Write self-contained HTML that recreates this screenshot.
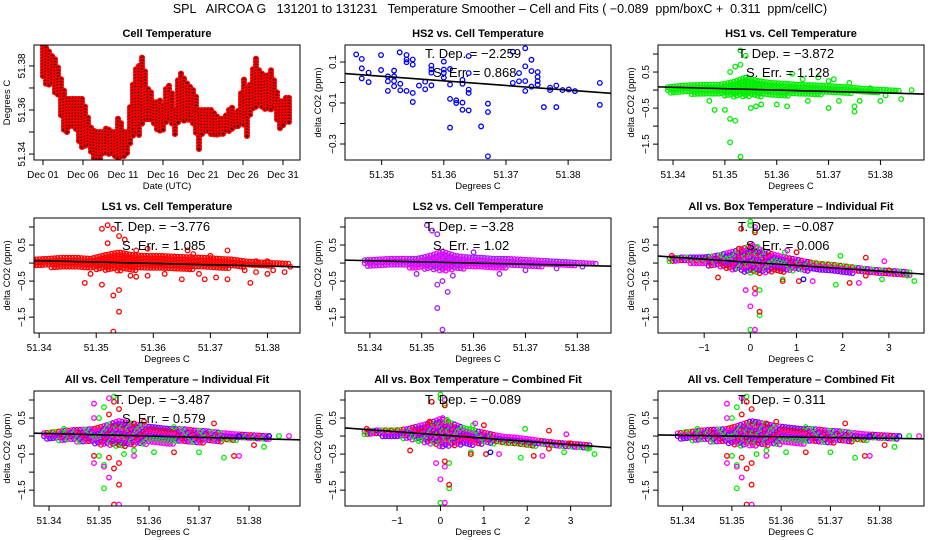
<!DOCTYPE html>
<html><head><meta charset="utf-8"><style>
html,body{margin:0;padding:0;background:#fff}
svg{display:block;font-family:"Liberation Sans",sans-serif}
</style></head><body>
<svg id="chart" width="936" height="540" viewBox="0 0 936 540">
<rect width="936" height="540" fill="#fff"/>
<text x="500" y="13" font-size="12.5" text-anchor="middle" style="white-space:pre" xml:space="preserve">SPL   AIRCOA G   131201 to 131231   Temperature Smoother – Cell and Fits ( −0.089  ppm/boxC +  0.311  ppm/cellC)</text>
</svg>
<script>
// ---------- data ----------
const dayBins = [0,0.5,1,1.5,2,2.5,3,3.5,4,4.5,5,5.5,6,6.5,7,7.5,8,8.5,9,9.5,10,10.5,11,11.5,12,12.5,13,13.5,14,14.5,15,15.5,16,16.5,17,17.5,18,18.5,19,19.5,20,20.5,21,21.5,22,22.5,23,23.5,24,24.5,25,25.5,26,26.5,27,27.5,28,28.5,29,29.5,30,30.5,31];
const cellTempLo = [51.375,51.37,51.372,51.368,51.365,51.35,51.35,51.352,51.352,51.345,51.342,51.345,51.34,51.337,51.337,51.34,51.34,51.34,51.338,51.338,51.338,51.34,51.345,51.35,51.348,51.355,51.355,51.355,51.352,51.35,51.35,51.355,51.355,51.348,51.355,51.355,51.355,51.355,51.352,51.342,51.35,51.35,51.348,51.348,51.348,51.348,51.35,51.35,51.352,51.352,51.355,51.348,51.36,51.36,51.362,51.36,51.36,51.36,51.36,51.35,51.352,51.354,51.355];
const cellTempHi = [51.389,51.388,51.385,51.383,51.378,51.37,51.365,51.365,51.365,51.365,51.365,51.358,51.352,51.35,51.35,51.35,51.352,51.35,51.35,51.358,51.35,51.35,51.365,51.378,51.38,51.385,51.37,51.368,51.362,51.365,51.362,51.372,51.37,51.36,51.378,51.375,51.372,51.37,51.368,51.36,51.36,51.36,51.36,51.358,51.356,51.356,51.358,51.362,51.358,51.36,51.375,51.37,51.372,51.385,51.378,51.376,51.375,51.378,51.372,51.364,51.364,51.366,51.365];

const hs2X = [51.3459,51.3468,51.3468,51.3468,51.3479,51.3479,51.3499,51.3499,51.351,51.351,51.351,51.352,51.352,51.352,51.352,51.3529,51.353,51.353,51.354,51.354,51.354,51.354,51.355,51.355,51.355,51.355,51.356,51.357,51.357,51.358,51.358,51.358,51.358,51.36,51.36,51.36,51.36,51.361,51.361,51.361,51.361,51.362,51.362,51.363,51.363,51.363,51.363,51.364,51.364,51.364,51.364,51.364,51.366,51.3671,51.3671,51.3671,51.3711,51.3711,51.3721,51.3721,51.3731,51.3731,51.3731,51.3731,51.3741,51.3741,51.3741,51.3751,51.3751,51.3751,51.3751,51.3761,51.3771,51.3771,51.3781,51.3781,51.3791,51.3801,51.3811,51.3851,51.3851];
const hs2Y = [0.137,0.115,0.069,0.02,0.048,0.002,0.134,0.061,0.03,0.006,-0.041,0.058,0.03,0.007,-0.018,0.147,-0.006,-0.038,0.134,0.112,0.099,-0.041,0.112,0.087,-0.051,-0.095,-0.015,0.004,-0.033,0.082,0.064,0.048,-0.014,0.102,0.063,0.024,0.047,-0.01,-0.08,-0.22,0.066,-0.087,-0.1,0.013,-0.006,-0.098,-0.133,0.129,0.046,-0.035,-0.051,-0.136,-0.214,-0.103,-0.144,-0.36,0.15,-0.002,0.046,0.006,0.167,0.079,0.007,-0.041,0.111,0.056,-0.02,0.051,0.027,0.007,-0.01,-0.12,-0.025,-0.037,-0.015,-0.12,-0.037,-0.034,-0.042,-0.002,-0.109];

const cellBins = [51.339,51.3415,51.344,51.3465,51.349,51.3515,51.354,51.3565,51.359,51.3615,51.364,51.3665,51.369,51.3715,51.374,51.3765,51.379,51.3815,51.384];
const hs1Lo = [-0.08,-0.1,-0.12,-0.14,-0.15,-0.2,-0.2,-0.18,-0.16,-0.16,-0.16,-0.14,-0.12,-0.12,-0.1,-0.08,-0.07,-0.06,-0.05];
const hs1Hi = [0.08,0.12,0.14,0.15,0.15,0.22,0.35,0.25,0.2,0.18,0.15,0.14,0.12,0.1,0.08,0.04,0.02,0,-0.02];
const hs1OutX = [51.353,51.354,51.352,51.353,51.351,51.35,51.351,51.352,51.351,51.353,51.348,51.347,51.355,51.356,51.357,51.36,51.362,51.37,51.375,51.375,51.38,51.384,51.386,51.368,51.371,51.37,51.374,51.363,51.365,51.378,51.381,51.376,51.372,51.366];
const hs1OutY = [1.1,0.95,0.65,0.7,0.5,-0.55,-0.8,-0.85,-1.45,-1.85,-0.55,-0.3,-0.5,-0.45,-0.4,-0.4,-0.45,-0.5,-0.6,-0.45,-0.3,-0.25,0,0.35,0.3,0.25,0.2,0.45,0.3,0.05,-0.15,-0.3,-0.3,-0.3];

const ls1Lo = [-0.1,-0.12,-0.14,-0.15,-0.15,-0.2,-0.22,-0.2,-0.2,-0.2,-0.2,-0.18,-0.16,-0.16,-0.14,-0.1,-0.08,-0.07,-0.06];
const ls1Hi = [0.1,0.12,0.15,0.15,0.12,0.22,0.3,0.22,0.2,0.2,0.18,0.16,0.15,0.12,0.1,0.04,0.02,0,-0.02];
const ls1OutX = [51.352,51.351,51.353,51.354,51.355,51.352,51.357,51.359,51.348,51.349,51.351,51.354,51.353,51.354,51.353,51.356,51.357,51.359,51.362,51.365,51.369,51.371,51.373,51.377,51.376,51.378,51.38,51.381,51.383,51.384,51.38,51.378,51.373,51.37,51.366,51.367,51.368];
const ls1OutY = [1.05,0.95,0.95,0.75,0.65,0.55,0.35,0.4,-0.55,-0.3,-0.6,-0.75,-0.9,-1.35,-1.9,-0.35,-0.38,-0.35,-0.3,-0.45,-0.45,-0.4,-0.45,-0.55,-0.2,-0.25,-0.3,-0.2,-0.25,-0.1,0.05,0.05,0.35,0.2,0.35,0.25,-0.3];

const ls2Lo = [-0.08,-0.1,-0.12,-0.12,-0.14,-0.18,-0.24,-0.18,-0.16,-0.15,-0.15,-0.13,-0.12,-0.11,-0.1,-0.08,-0.07,-0.06,-0.06];
const ls2Hi = [0.08,0.1,0.12,0.12,0.12,0.2,0.32,0.2,0.16,0.15,0.12,0.12,0.1,0.08,0.06,0.04,0.02,0,-0.02];
const ls2OutX = [51.351,51.352,51.353,51.353,51.354,51.355,51.353,51.354,51.356,51.37,51.376,51.36,51.365,51.381,51.349];
const ls2OutY = [1.05,0.9,0.8,-0.6,-0.5,-0.8,-1.25,-1.85,-0.35,-0.2,-0.15,0.3,-0.3,-0.1,-0.3];

const boxBins = [-1.75,-1.5,-1.25,-1,-0.75,-0.5,-0.25,0,0.25,0.5,0.75,1,1.25,1.5,1.75,2,2.25,2.5,2.75,3,3.25,3.5];
const boxLo = [0.05,0.02,-0.02,-0.06,-0.1,-0.15,-0.22,-0.3,-0.28,-0.25,-0.25,-0.22,-0.22,-0.22,-0.25,-0.27,-0.28,-0.3,-0.3,-0.31,-0.33,-0.36];
const boxHi = [0.13,0.16,0.16,0.16,0.2,0.28,0.36,0.48,0.36,0.24,0.16,0.1,0.03,-0.02,-0.04,-0.08,-0.12,-0.16,-0.19,-0.21,-0.23,-0.26];
const boxOutX = [0,0,0.1,0.15,0.75,1.95,1.85,0.7,0.2,0.2,0,-1.75,2.85,3.55,3.4,-0.2,0.1,-0.25,1,2.5,2.15,1.05,0.7,0.1,0.2,-0.7,-1.7,3,2.5,0.1,0.05,-0.1,0.1,0,0.1,2.9,2.35,1.35,0.8,1.15];
const boxOutY = [1.15,1.05,0.9,0.45,0.3,0.2,-0.6,-0.45,-0.75,-1.45,-1.85,0.05,-0.45,-0.5,-0.35,0.95,0.85,0.4,0.3,0.15,-0.55,-0.5,-0.5,-0.7,-1.35,-0.4,0.2,-0.2,-0.35,1,0.5,-0.75,-0.85,-1.2,-1.85,0.05,-0.55,-0.5,0.35,-0.45];
const boxOutC = ["g","g","g","g","g","g","g","g","g","g","g","g","g","g","g","r","r","r","r","r","r","r","r","r","r","r","r","r","r","m","m","m","m","m","m","m","m","m","m","b"];

const allLo = [-0.08,-0.12,-0.15,-0.17,-0.22,-0.27,-0.3,-0.27,-0.24,-0.22,-0.22,-0.2,-0.2,-0.18,-0.16,-0.12,-0.1,-0.09,-0.09];
const allHi = [0.08,0.12,0.16,0.18,0.2,0.3,0.42,0.35,0.28,0.24,0.2,0.2,0.16,0.14,0.1,0.06,0.04,0.02,0];
const allOutX = [51.353,51.351,51.35,51.35,51.351,51.351,51.355,51.357,51.343,51.365,51.37,51.375,51.383,51.386,51.361,51.353,51.354,51.352,51.349,51.352,51.353,51.354,51.354,51.353,51.357,51.359,51.365,51.377,51.373,51.381,51.349,51.352,51.349,51.349,51.351,51.352,51.354,51.357,51.378,51.388,51.384,51.378];
const allOutY = [1.1,0.8,0.5,-0.55,-0.8,-1.45,-0.5,-0.4,0.2,0.25,-0.45,-0.6,-0.3,0,-0.45,0.95,0.75,0.6,-0.55,-0.6,-0.9,-0.75,-1.35,-1.9,0.35,0.4,-0.45,-0.55,0.35,-0.25,0.9,1.05,0.5,-0.75,-0.85,-1.15,-1.9,-0.55,-0.55,0,0,0];
const allOutC = ["g","g","g","g","g","g","g","g","g","g","g","g","g","g","g","r","r","r","r","r","r","r","r","r","r","r","r","r","r","r","m","m","m","m","m","m","m","m","m","m","b","b"];

const fitSlope = [-2.259,-3.872,-3.776,-3.28,-0.087,-3.487,-0.089,-2.0];
const fitAtRef = [0.008,0.0,-0.01,0.0,0.02,0.0,0.03,-0.02];
const fitRef = [51.36,51.36,51.36,51.36,0,51.36,0,51.36];
const tdepText = ["−2.259","−3.872","−3.776","−3.28","−0.087","−3.487","−0.089","0.311"];
const serrText = ["0.868","1.128","1.085","1.02","0.006","0.579","",""];

// ---------- helpers ----------
const NS = "http://www.w3.org/2000/svg";
const svg = document.getElementById("chart");
function el(tag, attrs, parent) {
  const e = document.createElementNS(NS, tag);
  for (const k in attrs) e.setAttribute(k, attrs[k]);
  (parent || svg).appendChild(e);
  return e;
}
const COLORS = {r:"#ff0000", g:"#00ee00", m:"#ff00ff", b:"#0000ff", p:"#a020f0"};

function makePanel(c) {
  const g = el("g", {});
  
  
  const sx = v => c.x0 + (v - c.xmin) / (c.xmax - c.xmin) * c.w;
  const sy = v => c.y0 + c.h - (v - c.ymin) / (c.ymax - c.ymin) * c.h;
  const t = el("text", {x: c.x0 + c.w/2, y: c.y0 - 8, "font-size": 11, "font-weight": "bold", "text-anchor": "middle"}, g);
  t.textContent = c.title;
  
  
  const ax = el("g", {stroke: "#000", "stroke-width": 1}, g);
  
  
  c.xticks.forEach((v, i) => {
    const x = sx(v);
    el("line", {x1: x, x2: x, y1: c.y0 + c.h, y2: c.y0 + c.h + 5}, ax);
    const tl = el("text", {x: x, y: c.y0 + c.h + 18, "font-size": 10, "text-anchor": "middle", stroke: "none"}, ax);
    tl.textContent = c.xlabels[i];
    
    
  });
  const ay = el("g", {stroke: "#000", "stroke-width": 1}, g);
  
  
  c.yticks.forEach((v, i) => {
    const y = sy(v);
    el("line", {x1: c.x0 - 5, x2: c.x0, y1: y, y2: y}, ay);
    if (c.ylabels[i]) {
      const tl = el("text", {x: 0, y: 0, "font-size": 10, "text-anchor": "middle", stroke: "none", transform: `translate(${c.x0 - 9},${y}) rotate(-90)`}, ay);
      tl.textContent = c.ylabels[i];
      
      
    }
  });
  const xl = el("text", {x: c.x0 + c.w/2, y: c.y0 + c.h + 29, "font-size": 9.5, "text-anchor": "middle"}, g);
  xl.textContent = c.xlab;
  
  
  const yl = el("text", {x: 0, y: 0, "font-size": 9.5, "text-anchor": "middle", transform: `translate(${c.x0 - 24},${c.y0 + c.h/2}) rotate(-90)`}, g);
  yl.textContent = c.ylab;
  
  
  const clip = "clip-" + c.name;
  const cp = el("clipPath", {id: clip}, g);
  el("rect", {x: c.x0, y: c.y0, width: c.w, height: c.h}, cp);
  const plot = el("g", {"clip-path": `url(#${clip})`}, g);
  
  
  el("rect", {x: c.x0, y: c.y0, width: c.w, height: c.h, fill: "none", stroke: "#000", "stroke-width": 1}, g);
  return {g, plot, sx, sy};
}
function dot(parent, x, y, col, fill, sw) {
  const d = el("circle", {cx: x, cy: y, r: 2.3, fill: fill || "none", stroke: col, "stroke-width": sw || 1.3}, parent);
  
  
  return d;
}
function band(P, bins, lo, hi, colors, fill, sw) {
  const x0 = P.sx(bins[0]), x1 = P.sx(bins[bins.length - 1]);
  let k = 0;
  for (let px = x0; px <= x1; px += 3) {
    let i = 0;
    while (i < bins.length - 2 && P.sx(bins[i + 1]) < px) i++;
    const a = P.sx(bins[i]), b = P.sx(bins[i + 1]);
    const f = Math.min(1, Math.max(0, (px - a) / (b - a)));
    const l = lo[i] + (lo[i + 1] - lo[i]) * f, h = hi[i] + (hi[i + 1] - hi[i]) * f;
    for (let py = P.sy(h); py <= P.sy(l) + 0.1; py += 3) {
      dot(P.plot, px, py, colors[k % colors.length], fill, sw);
      k++;
    }
  }
}
function outliers(P, xs, ys, cs, def) {
  xs.forEach((x, i) => dot(P.plot, P.sx(x), P.sy(ys[i]), COLORS[cs ? cs[i] : def]));
}
function fitLine(P, c, idx) {
  const f = v => fitAtRef[idx] + fitSlope[idx] * (v - fitRef[idx]);
  const ln = el("line", {x1: P.sx(c.xmin), y1: P.sy(f(c.xmin)), x2: P.sx(c.xmax), y2: P.sy(f(c.xmax)), stroke: "#000", "stroke-width": 1.6}, P.plot);
  
  
  const t1 = el("text", {x: c.x0 + 80, y: c.y0 + 13, "font-size": 13}, P.g);
  t1.textContent = "T. Dep. =  " + tdepText[idx];
  
  
  if (serrText[idx]) {
    const t2 = el("text", {x: c.x0 + 88, y: c.y0 + 32, "font-size": 13}, P.g);
    t2.textContent = "S. Err. =  " + serrText[idx];
    
    
  }
}

const COLX = [34, 345, 658], ROWY = [45, 218, 391], W = 266, H = 115;
const cellTicks = [51.34, 51.35, 51.36, 51.37, 51.38];
const cellLabels = ["51.34", "51.35", "51.36", "51.37", "51.38"];
const dYt = [1, 0.5, 0, -0.5, -1, -1.5], dYl = ["", "0.5", "", "−0.5", "", "−1.5"];
const boxTicks = [-1, 0, 1, 2, 3], boxLabels = ["−1", "0", "1", "2", "3"];
function cfg(name, col, row, title, xmin, xmax, xt, xl, xlab) {
  return {name, x0: COLX[col], y0: ROWY[row], w: W, h: H, xmin, xmax, ymin: -1.94, ymax: 1.25,
    xticks: xt, xlabels: xl, yticks: dYt, ylabels: dYl, title, xlab, ylab: "delta CO2 (ppm)"};
}
const MIX = ["#ff00ff", "#8000ff", "#ff0000", "#ff00ff", "#8000ff", "#00ee00"];

// Panel 1
const c1 = {name: "cell-temperature-panel", x0: 34, y0: 45, w: W, h: H, xmin: -1.125, xmax: 32.125, ymin: 51.3373, ymax: 51.3895,
  xticks: [0, 5, 10, 15, 20, 25, 30], xlabels: ["Dec 01", "Dec 06", "Dec 11", "Dec 16", "Dec 21", "Dec 26", "Dec 31"],
  yticks: [51.34, 51.35, 51.36, 51.37, 51.38], ylabels: ["51.34", "", "51.36", "", "51.38"], title: "Cell Temperature", xlab: "Date (UTC)", ylab: "Degrees C"};
const P1 = makePanel(c1);
band(P1, dayBins, cellTempLo, cellTempHi, ["#ff0000"], "#600000", 1.5);

// Panel 2
const c2 = {name: "hs2-panel", x0: 345, y0: 45, w: W, h: H, xmin: 51.3441, xmax: 51.3869, ymin: -0.378, ymax: 0.183,
  xticks: [51.35, 51.36, 51.37, 51.38], xlabels: ["51.35", "51.36", "51.37", "51.38"],
  yticks: [0.1, 0, -0.1, -0.2, -0.3], ylabels: ["0.1", "", "−0.1", "", "−0.3"], title: "HS2 vs. Cell Temperature", xlab: "Degrees C", ylab: "delta CO2 (ppm)"};
const P2 = makePanel(c2);
hs2X.forEach((x, i) => dot(P2.plot, P2.sx(x), P2.sy(hs2Y[i]), "#0000ff"));
fitLine(P2, c2, 0);

// Panel 3
const c3 = cfg("hs1-panel", 2, 0, "HS1 vs. Cell Temperature", 51.3371, 51.3884, cellTicks, cellLabels, "Degrees C");
const P3 = makePanel(c3);
band(P3, cellBins, hs1Lo, hs1Hi, ["#00ee00"]);
outliers(P3, hs1OutX, hs1OutY, null, "g");
fitLine(P3, c3, 1);

// Panel 4
const c4 = cfg("ls1-panel", 0, 1, "LS1 vs. Cell Temperature", 51.3391, 51.3857, cellTicks, cellLabels, "Degrees C");
const P4 = makePanel(c4);
band(P4, cellBins, ls1Lo, ls1Hi, ["#ff0000"]);
outliers(P4, ls1OutX, ls1OutY, null, "r");
fitLine(P4, c4, 2);

// Panel 5
const c5 = cfg("ls2-panel", 1, 1, "LS2 vs. Cell Temperature", 51.3352, 51.3865, cellTicks, cellLabels, "Degrees C");
const P5 = makePanel(c5);
band(P5, cellBins, ls2Lo, ls2Hi, ["#a020f0", "#ff00ff"]);
outliers(P5, ls2OutX, ls2OutY, null, "p");
fitLine(P5, c5, 3);

// Panel 6
const c6 = cfg("all-box-individual-panel", 2, 1, "All vs. Box Temperature – Individual Fit", -2.0, 3.76, boxTicks, boxLabels, "Degrees C");
const P6 = makePanel(c6);
band(P6, boxBins, boxLo, boxHi, MIX);
outliers(P6, boxOutX, boxOutY, boxOutC);
fitLine(P6, c6, 4);

// Panel 7
const c7 = cfg("all-cell-individual-panel", 0, 2, "All vs. Cell Temperature – Individual Fit", 51.337, 51.3902, cellTicks, cellLabels, "Degrees C");
const P7 = makePanel(c7);
band(P7, cellBins, allLo, allHi, MIX);
outliers(P7, allOutX, allOutY, allOutC);
fitLine(P7, c7, 5);

// Panel 8
const c8 = cfg("all-box-combined-panel", 1, 2, "All vs. Box Temperature – Combined Fit", -2.2, 3.93, boxTicks, boxLabels, "Degrees C");
const P8 = makePanel(c8);
band(P8, boxBins, boxLo, boxHi, MIX);
outliers(P8, boxOutX, boxOutY, boxOutC);
fitLine(P8, c8, 6);

// Panel 9
const c9 = cfg("all-cell-combined-panel", 2, 2, "All vs. Cell Temperature – Combined Fit", 51.335, 51.389, cellTicks, cellLabels, "Degrees C");
const P9 = makePanel(c9);
band(P9, cellBins, allLo, allHi, MIX);
outliers(P9, allOutX, allOutY, allOutC);
fitLine(P9, c9, 7);
</script>
</body></html>
